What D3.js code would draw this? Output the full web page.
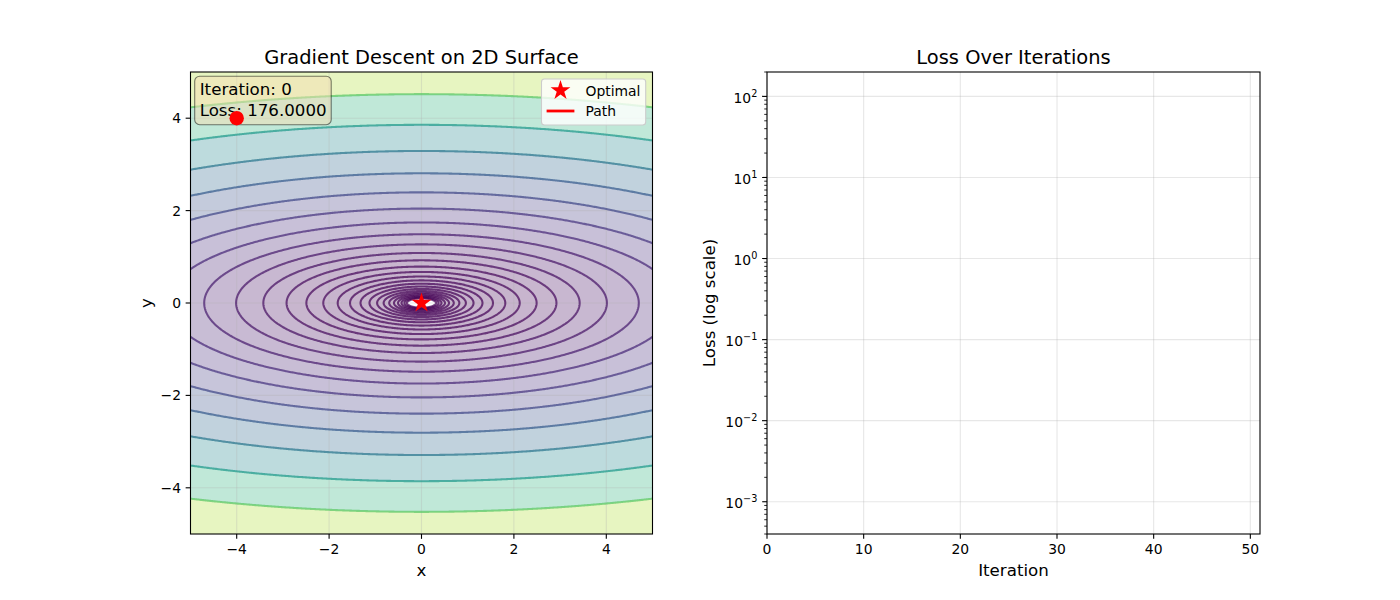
<!DOCTYPE html>
<html>
<head>
<meta charset="utf-8">
<script src="https://cdn.jsdelivr.net/npm/d3@7"></script>
<style>
  body { margin: 0; background: #fff; }
  text { font-family: "DejaVu Sans", sans-serif; fill: #000; }
</style>
</head>
<body>
<svg></svg>
<script>
// loss surface: a*x^2 + b*y^2
const surfaceCoeffs = [1, 10];
// contour levels (logspace from 0.1 to 1000, 30 steps)
const contourLevels = [0.1, 0.13738, 0.18874, 0.25929, 0.35622, 0.48939, 0.67234, 0.92367,
    1.2690, 1.7433, 2.3950, 3.2903, 4.5204, 6.2102, 8.5317, 11.721, 16.103, 22.122,
    30.392, 41.753, 57.362, 78.805, 108.27, 148.74, 204.35, 280.73, 385.68, 529.86, 727.90, 1000];
const colorRange = [0.1, 275];
const optimum = [0, 0];
const pathPoints = [[-4, 4]];
const iteration = 0;
const currentLoss = 176.0;
const lossHistory = [];           // nothing plotted yet at iteration 0
const surfaceTicks = [-4, -2, 0, 2, 4];
const iterTicks = [0, 10, 20, 30, 40, 50];
const lossTicks = [1e-3, 1e-2, 1e-1, 1, 10, 100];

const width = 1400;
const height = 600;
const svg = d3.select('svg').attr('width', width).attr('height', height);

const tickFont = 13.9, labelFont = 16.67, titleFont = 19.44;
const majorLen = 4.86, minorLen = 2.78;

// ---------- left panel: contour surface ----------
const x = d3.scaleLinear().domain([-5, 5]).range([190.5, 652.5]);
const y = d3.scaleLinear().domain([-5, 5]).range([534, 72]);
const color = d3.scaleSequential(d3.interpolateViridis).domain(colorRange);
const faded = c => d3.interpolateRgb('#ffffff', c)(0.3);

// sample the surface on a grid a bit larger than the axes, then clip
const step = 0.025, g0 = -5.5, n = 441;
const values = new Float64Array(n * n);
for (let j = 0; j < n; j++) {
    for (let i = 0; i < n; i++) {
        const gx = g0 + i * step, gy = g0 + j * step;
        values[j * n + i] = surfaceCoeffs[0] * gx * gx + surfaceCoeffs[1] * gy * gy;
    }
}
const bands = d3.contours().size([n, n]).thresholds(contourLevels)(values);
const gridToPx = d3.geoTransform({
    point(u, v) {
        this.stream.point(x(g0 + (u - 0.5) * step), y(g0 + (v - 0.5) * step));
    }
});
const path = d3.geoPath(gridToPx);

svg.append('clipPath').attr('id', 'surfClip')
    .append('rect').attr('x', 190.5).attr('y', 72).attr('width', 462).attr('height', 462);

const surf = svg.append('g').attr('clip-path', 'url(#surfClip)');

surf.selectAll('.band')
    .data(bands)
    .enter().append('path')
    .attr('class', 'band')
    .attr('d', path)
    .attr('fill', (d, i) => {
        const hi = contourLevels[i + 1] !== undefined ? contourLevels[i + 1] : d.value;
        return faded(color((d.value + hi) / 2));
    })
    .attr('stroke', 'none');

// grid
surf.selectAll('.gx').data(surfaceTicks).enter().append('line')
    .attr('x1', d => x(d)).attr('x2', d => x(d)).attr('y1', 72).attr('y2', 534)
    .attr('stroke', '#b0b0b0').attr('stroke-opacity', 0.3).attr('stroke-width', 1.1);
surf.selectAll('.gy').data(surfaceTicks).enter().append('line')
    .attr('y1', d => y(d)).attr('y2', d => y(d)).attr('x1', 190.5).attr('x2', 652.5)
    .attr('stroke', '#b0b0b0').attr('stroke-opacity', 0.3).attr('stroke-width', 1.1);

surf.selectAll('.iso')
    .data(bands)
    .enter().append('path')
    .attr('class', 'iso')
    .attr('d', path)
    .attr('fill', 'none')
    .attr('stroke', d => color(d.value))
    .attr('stroke-opacity', 0.72)
    .attr('stroke-width', 2.08);

// descent path so far
surf.append('path')
    .datum(pathPoints)
    .attr('d', d3.line().x(d => x(d[0])).y(d => y(d[1])))
    .attr('fill', 'none').attr('stroke', 'red').attr('stroke-width', 2.78);

const star = d3.symbol().type(d3.symbolStar).size(121);
svg.append('path')
    .attr('d', star())
    .attr('transform', `translate(${x(optimum[0])},${y(optimum[1])})`)
    .attr('fill', 'red');

// spines
svg.append('rect').attr('x', 190.5).attr('y', 72).attr('width', 462).attr('height', 462)
    .attr('fill', 'none').attr('stroke', '#000').attr('stroke-width', 1.1);

// ticks
const lx = svg.append('g');
surfaceTicks.forEach(t => {
    lx.append('line').attr('x1', x(t)).attr('x2', x(t)).attr('y1', 534).attr('y2', 534 + majorLen)
        .attr('stroke', '#000').attr('stroke-width', 1.1);
    lx.append('text').attr('x', x(t)).attr('y', 554.3).attr('text-anchor', 'middle')
        .style('font-size', tickFont + 'px').text(d3.format('d')(t));
    lx.append('line').attr('y1', y(t)).attr('y2', y(t)).attr('x1', 190.5 - majorLen).attr('x2', 190.5)
        .attr('stroke', '#000').attr('stroke-width', 1.1);
    lx.append('text').attr('x', 181).attr('y', y(t) + 5).attr('text-anchor', 'end')
        .style('font-size', tickFont + 'px').text(d3.format('d')(t));
});

svg.append('text').attr('x', 421.5).attr('y', 64).attr('text-anchor', 'middle')
    .style('font-size', titleFont + 'px').text('Gradient Descent on 2D Surface');
svg.append('text').attr('x', 421.5).attr('y', 576).attr('text-anchor', 'middle')
    .style('font-size', labelFont + 'px').text('x');
svg.append('text').attr('transform', 'translate(151.5,303) rotate(-90)').attr('text-anchor', 'middle')
    .style('font-size', labelFont + 'px').text('y');

// info box
svg.append('rect').attr('x', 194.7).attr('y', 76.2).attr('width', 136.5).attr('height', 48.5)
    .attr('rx', 5).attr('ry', 5)
    .attr('fill', '#f5deb3').attr('fill-opacity', 0.5)
    .attr('stroke', '#000').attr('stroke-opacity', 0.5).attr('stroke-width', 1.1);
svg.append('text').attr('x', 199.7).attr('y', 95).style('font-size', labelFont + 'px')
    .text(`Iteration: ${iteration}`);
svg.append('text').attr('x', 199.7).attr('y', 115.5).style('font-size', labelFont + 'px')
    .text(`Loss: ${currentLoss.toFixed(4)}`);

// current point
svg.append('circle')
    .attr('cx', x(pathPoints[pathPoints.length - 1][0]))
    .attr('cy', y(pathPoints[pathPoints.length - 1][1]))
    .attr('r', 7.2).attr('fill', 'red');

// legend
const leg = svg.append('g');
leg.append('rect').attr('x', 541.5).attr('y', 79).attr('width', 104.2).attr('height', 46)
    .attr('rx', 3).attr('ry', 3)
    .attr('fill', '#fff').attr('fill-opacity', 0.8).attr('stroke', '#cccccc').attr('stroke-width', 1.1);
leg.append('path').attr('d', star()).attr('transform', 'translate(560.5,90.5)').attr('fill', 'red');
leg.append('line').attr('x1', 546.6).attr('x2', 574.4).attr('y1', 111).attr('y2', 111)
    .attr('stroke', 'red').attr('stroke-width', 2.78);
leg.append('text').attr('x', 585.5).attr('y', 95.5).style('font-size', tickFont + 'px').text('Optimal');
leg.append('text').attr('x', 585.5).attr('y', 116).style('font-size', tickFont + 'px').text('Path');

// ---------- right panel: loss curve ----------
const ix = d3.scaleLinear().domain([0, 51]).range([767, 1260]);
const ly = d3.scaleLog().domain([4e-4, 200]).range([534, 72]);

const right = svg.append('g');
iterTicks.forEach(t => {
    right.append('line').attr('x1', ix(t)).attr('x2', ix(t)).attr('y1', 72).attr('y2', 534)
        .attr('stroke', '#b0b0b0').attr('stroke-opacity', 0.3).attr('stroke-width', 1.1);
});
lossTicks.forEach(t => {
    right.append('line').attr('y1', ly(t)).attr('y2', ly(t)).attr('x1', 767).attr('x2', 1260)
        .attr('stroke', '#b0b0b0').attr('stroke-opacity', 0.3).attr('stroke-width', 1.1);
});

right.append('path')
    .datum(lossHistory)
    .attr('d', d3.line().x((d, i) => ix(i)).y(d => ly(d)))
    .attr('fill', 'none').attr('stroke', '#1f77b4').attr('stroke-width', 2.78);

right.append('rect').attr('x', 767).attr('y', 72).attr('width', 493).attr('height', 462)
    .attr('fill', 'none').attr('stroke', '#000').attr('stroke-width', 1.1);

iterTicks.forEach(t => {
    right.append('line').attr('x1', ix(t)).attr('x2', ix(t)).attr('y1', 534).attr('y2', 534 + majorLen)
        .attr('stroke', '#000').attr('stroke-width', 1.1);
    right.append('text').attr('x', ix(t)).attr('y', 554.3).attr('text-anchor', 'middle')
        .style('font-size', tickFont + 'px').text(t);
});

// minor log ticks
const [lo, hi] = ly.domain();
const minor = ly.ticks(60).filter(v => v >= lo && v <= hi && !lossTicks.includes(v));
minor.forEach(v => {
    right.append('line').attr('x1', 767 - minorLen).attr('x2', 767).attr('y1', ly(v)).attr('y2', ly(v))
        .attr('stroke', '#000').attr('stroke-width', 0.83);
});
lossTicks.forEach(t => {
    right.append('line').attr('x1', 767 - majorLen).attr('x2', 767).attr('y1', ly(t)).attr('y2', ly(t))
        .attr('stroke', '#000').attr('stroke-width', 1.1);
    const lbl = right.append('text').attr('x', 757.3).attr('y', ly(t) + 6.5).attr('text-anchor', 'end')
        .style('font-size', tickFont + 'px');
    lbl.append('tspan').text('10');
    lbl.append('tspan').attr('dy', -6).style('font-size', '9.7px')
        .text(d3.format('d')(Math.round(Math.log10(t))));
});

right.append('text').attr('x', 1013.5).attr('y', 64).attr('text-anchor', 'middle')
    .style('font-size', titleFont + 'px').text('Loss Over Iterations');
right.append('text').attr('x', 1013.5).attr('y', 576).attr('text-anchor', 'middle')
    .style('font-size', labelFont + 'px').text('Iteration');
right.append('text').attr('transform', 'translate(715,303) rotate(-90)').attr('text-anchor', 'middle')
    .style('font-size', labelFont + 'px').text('Loss (log scale)');
</script>
</body>
</html>
